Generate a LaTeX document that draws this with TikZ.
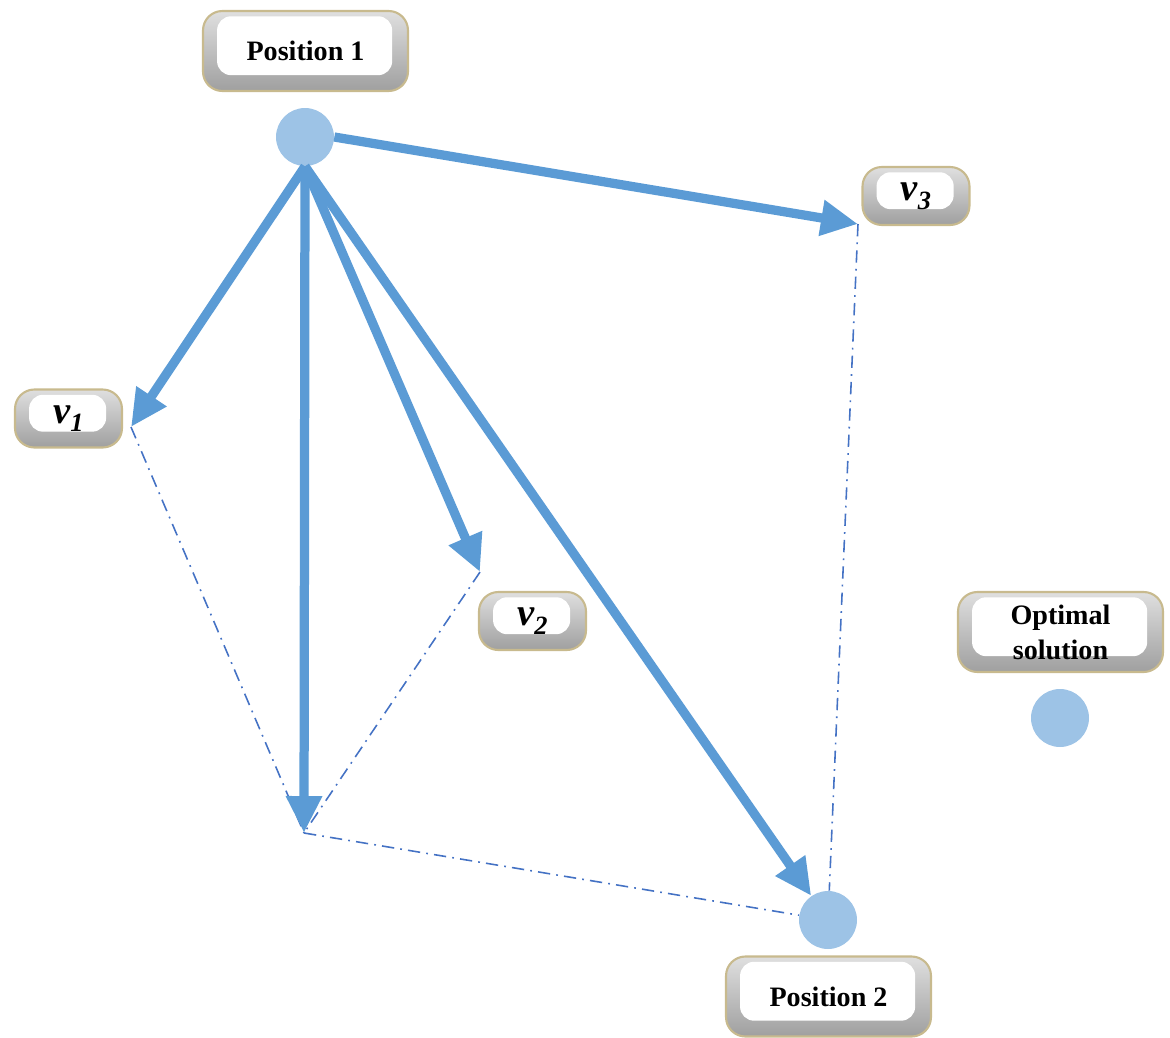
\documentclass[tikz,border=0pt]{standalone}
\usepackage{fontspec}
\setmainfont{Liberation Serif}
\usetikzlibrary{arrows.meta, positioning}

\definecolor{arrowblue}{RGB}{91,155,213}
\definecolor{dotblue}{RGB}{157,195,230}
\definecolor{lineblue}{RGB}{68,114,196}
\definecolor{tagedge}{RGB}{200,186,142}

\newcommand{\vlabel}[1]{{\fontsize{22}{24}\selectfont\bfseries\itshape v\raisebox{-0.22em}{\fontsize{15}{18}\selectfont #1}}}

\begin{document}
\begin{tikzpicture}[
    x=0.02cm, y=-0.02cm,
    tag/.style={draw=tagedge, line width=1.2pt, rounded corners=11pt,
                top color=gray!25, bottom color=gray!75,
                align=center, inner sep=0pt,
                font=\fontsize{16}{19}\selectfont\bfseries,
                path picture={\fill[white, rounded corners=8pt]
                  ([xshift=8pt, yshift=9pt]path picture bounding box.south west)
                  rectangle ([xshift=-9pt, yshift=-3pt]path picture bounding box.north east);}},
    bigtag/.style={tag, minimum width=4.1cm, minimum height=1.6cm},
    vtag/.style={tag, minimum width=2.14cm, minimum height=1.16cm},
    dot/.style={circle, fill=dotblue, minimum size=1.16cm, inner sep=0pt},
    arr/.style={-{Triangle[length=0.74cm, width=0.68cm]}, arrowblue, line width=0.185cm},
    trace/.style={lineblue, line width=0.9pt,
                  dash pattern=on 7pt off 3.5pt on 1pt off 3.5pt},
  ]
    \useasboundingbox (0,0) rectangle (1170,1038);

    % labels
    \node[bigtag] (pos1) at (305.5,51) {Position 1};
    \node[bigtag] (pos2) at (828.5,996.5) {Position 2};
    \node[bigtag] (opt) at (1060.5,632) {Optimal\\[1pt]solution};
    \node[vtag] (t1) at (68.5,418.5) {\vlabel{1}};
    \node[vtag] (t2) at (532.5,621) {\vlabel{2}};
    \node[vtag] (t3) at (916,196) {\vlabel{3}};

    % positions
    \node[dot] (p1) at (305,137) {};
    \node[dot] (p2) at (828,920) {};
    \node[dot] (best) at (1060,718) {};

    % vector ends
    \coordinate (e1) at (131,427);
    \coordinate (e2) at (480,572);
    \coordinate (e3) at (858,224);
    \coordinate (s) at (304,833);

    \draw[trace] (e1) -- (s);
    \draw[trace] (e2) -- (s);
    \draw[trace] (s) -- (p2);
    \draw[trace] (e3) -- (p2);

    \draw[arr] (p1.east) -- (e3);
    \draw[arr] (p1.south) -- (e1);
    \draw[arr] (p1.south) -- (s);
    \draw[arr] (p1.south) -- (e2);
    \draw[arr] (p1.south) -- (p2);
\end{tikzpicture}
\end{document}
